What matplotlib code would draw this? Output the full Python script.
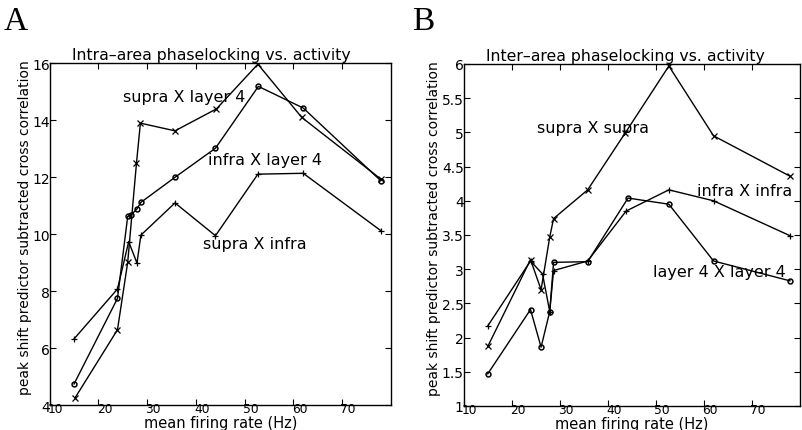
import matplotlib
matplotlib.use("Agg")
import matplotlib.pyplot as plt
from matplotlib.transforms import ScaledTranslation

plt.rcParams['font.family'] = ['DejaVu Sans']

# ---- Panel A data (intra-area) ----
a_sl4_x = [15.2, 23.9, 26.0, 27.8, 28.6, 35.7, 44.2, 52.7, 61.7, 77.9]
a_sl4_y = [4.25, 6.64, 9.01, 12.49, 13.89, 13.62, 14.39, 15.96, 14.09, 11.93]

a_il4_x = [15.0, 23.9, 26.0, 26.7, 27.9, 28.7, 35.7, 44.0, 52.8, 62.0, 77.9]
a_il4_y = [4.74, 7.74, 10.62, 10.67, 10.88, 11.11, 11.99, 13.01, 15.18, 14.42, 11.87]

a_si_x = [15.0, 23.9, 26.2, 27.9, 28.7, 35.7, 44.0, 52.7, 62.0, 77.9]
a_si_y = [6.32, 8.07, 9.73, 8.98, 9.96, 11.09, 9.94, 12.10, 12.13, 10.12]

# ---- Panel B data (inter-area) ----
b_ss_x = [15.0, 23.9, 26.1, 27.9, 28.7, 35.8, 43.6, 52.7, 62.0, 77.9]
b_ss_y = [1.87, 3.14, 2.70, 3.47, 3.74, 4.16, 4.99, 5.97, 4.95, 4.36]

b_ii_x = [15.0, 23.9, 26.4, 27.9, 28.7, 35.8, 43.8, 52.7, 62.0, 77.9]
b_ii_y = [2.17, 3.12, 2.93, 2.38, 2.98, 3.12, 3.85, 4.16, 4.00, 3.49]

b_44_x = [15.0, 23.9, 26.1, 27.9, 28.7, 35.8, 44.2, 52.7, 62.0, 77.9]
b_44_y = [1.47, 2.41, 1.86, 2.38, 3.10, 3.11, 4.04, 3.95, 3.12, 2.83]

xticks = [10, 20, 30, 40, 50, 60, 70]
a_yticks = [4, 6, 8, 10, 12, 14, 16]
b_yticks = [1, 1.5, 2, 2.5, 3, 3.5, 4, 4.5, 5, 5.5, 6]
b_ylabels = ['1', '1.5', '2', '2.5', '3', '3.5', '4', '4.5', '5', '5.5', '6']

fig = plt.figure(figsize=(8.03, 4.31), dpi=100)
axA = fig.add_axes([0.0619, 0.058, 0.425, 0.7935])
axB = fig.add_axes([0.5775, 0.0557, 0.4188, 0.7935])

lw = 1.0
ms = 4
fs_text = 11.5
fs_title = 11.3

def style(ax, ylab_x):
    ax.set_xlim(10, 80)
    ax.set_xticks(xticks)
    ax.tick_params(direction='in', top=True, right=True, length=4, width=0.8,
                   labelsize=10, pad=0)
    ax.tick_params(axis='x', labelsize=8.8, pad=-2)
    off = ScaledTranslation(6 / 100, 0, fig.dpi_scale_trans)
    for lab in ax.get_xticklabels():
        lab.set_transform(lab.get_transform() + off)
    for s in ax.spines.values():
        s.set_linewidth(1.0)
    ax.set_xlabel('mean firing rate (Hz)', fontsize=10.5)
    ax.xaxis.set_label_coords(0.5, -0.029)
    ax.set_ylabel('peak shift predictor subtracted cross correlation', fontsize=10)
    ax.yaxis.set_label_coords(ylab_x, 0.523)

# Panel A
axA.plot(a_sl4_x, a_sl4_y, color='k', lw=lw, marker='x', ms=ms, mew=0.9)
axA.plot(a_il4_x, a_il4_y, color='k', lw=lw, marker='o', ms=3.5, mfc='none', mew=1.1)
axA.plot(a_si_x, a_si_y, color='k', lw=lw, marker='+', ms=ms, mew=0.9)
axA.set_ylim(4, 16)
axA.set_yticks(a_yticks)
style(axA, -0.053)
axA.set_title('Intra\u2013area phaselocking vs. activity', fontsize=fs_title, pad=3, x=0.475)
axA.text(25.1, 14.84, 'supra X layer 4', fontsize=fs_text, va='center', ha='left')
axA.text(42.5, 12.6, 'infra X layer 4', fontsize=fs_text, va='center', ha='left')
axA.text(41.5, 9.67, 'supra X infra', fontsize=fs_text, va='center', ha='left')

# Panel B
axB.plot(b_ss_x, b_ss_y, color='k', lw=lw, marker='x', ms=ms, mew=0.9)
axB.plot(b_ii_x, b_ii_y, color='k', lw=lw, marker='+', ms=ms, mew=0.9)
axB.plot(b_44_x, b_44_y, color='k', lw=lw, marker='o', ms=3.5, mfc='none', mew=1.1)
axB.set_ylim(1, 6)
axB.set_yticks(b_yticks)
axB.set_yticklabels(b_ylabels)
style(axB, -0.068)
axB.set_title('Inter\u2013area phaselocking vs. activity', fontsize=fs_title, pad=3, x=0.48)
axB.text(25.2, 5.07, 'supra X supra', fontsize=fs_text, va='center', ha='left')
axB.text(58.5, 4.15, 'infra X infra', fontsize=fs_text, va='center', ha='left')
axB.text(49.5, 2.97, 'layer 4 X layer 4', fontsize=fs_text, va='center', ha='left')

fig.text(0.004, 0.985, 'A', fontsize=24, family='Liberation Serif', va='top', ha='left')
fig.text(0.513, 0.985, 'B', fontsize=24, family='Liberation Serif', va='top', ha='left')

fig.savefig('out.png', dpi=100)
